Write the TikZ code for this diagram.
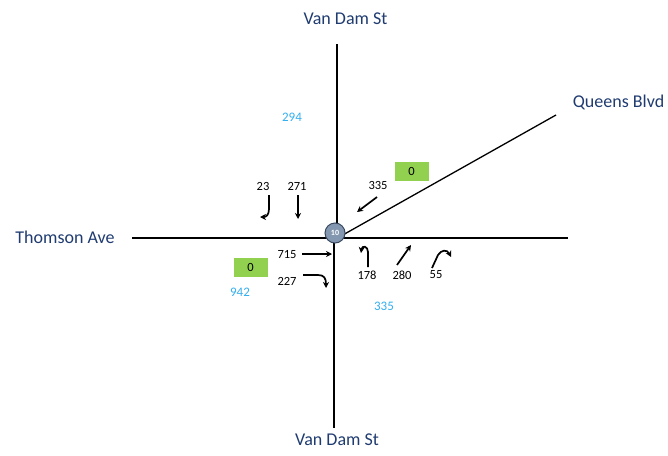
\documentclass[tikz,border=0pt]{standalone}
\usepackage{fontspec}
\setmainfont{Carlito}
\usetikzlibrary{arrows.meta}
\definecolor{roadblue}{HTML}{1F3B70}
\definecolor{volblue}{HTML}{33AEEF}
\definecolor{boxgreen}{HTML}{92D050}
\definecolor{circfill}{HTML}{8497B0}
\definecolor{circdraw}{HTML}{3A4A60}
\tikzset{
  road/.style={line width=1.3pt,black},
  roadlabel/.style={text=roadblue,font=\fontsize{18}{20}\selectfont,inner sep=0pt},
  vol/.style={text=black,font=\fontsize{12.5}{14}\selectfont,inner sep=0pt},
  tot/.style={text=volblue,font=\fontsize{13}{15}\selectfont,inner sep=0pt},
  greenbox/.style={fill=boxgreen,minimum width=34pt,minimum height=19pt,inner sep=0pt,font=\fontsize{12.5}{14}\selectfont},
  mv/.style={line width=1.7pt,-{Stealth[length=6pt,width=6pt]}},
  sig/.style={circle,fill=circfill,draw=circdraw,line width=1pt,minimum size=20pt,inner sep=0pt,text=white,font=\fontsize{8}{9}\selectfont\bfseries}
}
\begin{document}
\begin{tikzpicture}[x=1pt,y=-1pt]
\useasboundingbox (0,0) rectangle (668,455);
% road end points
\coordinate (nT) at (337,44);
\coordinate (nC) at (337,238);
\coordinate (sC) at (334,238);
\coordinate (sB) at (334,428);
\coordinate (wL) at (132,238);
\coordinate (eR) at (568,238);
\coordinate (qS) at (341,236);
\coordinate (qE) at (556,115);
\draw[road] (nT) -- (nC);
\draw[road] (sC) -- (sB);
\draw[road] (wL) -- (eR);
\draw[road] (qS) -- (qE);
\node[sig] (sg) at (335,233) {10};
% road labels
\node[roadlabel] (lN) at (345.5,19) {Van Dam St};
\node[roadlabel] (lS) at (337,440) {Van Dam St};
\node[roadlabel] (lW) at (65,237) {Thomson Ave};
\node[roadlabel] (lE) at (618.5,102) {Queens Blvd};
% totals
\node[tot] (t294) at (292,117) {294};
\node[tot] (t942) at (240,292) {942};
\node[tot] (t335) at (384,306) {335};
% green boxes
\node[greenbox] (g1) at (411.5,171) {0};
\node[greenbox] (g2) at (250.5,267.5) {0};
% volumes
\node[vol] (v23) at (263,186) {23};
\node[vol] (v271) at (297,186) {271};
\node[vol] (v335) at (378,185) {335};
\node[vol] (v715) at (287,255) {715};
\node[vol] (v227) at (287,281) {227};
\node[vol] (v178) at (367,275) {178};
\node[vol] (v280) at (402,275) {280};
\node[vol] (v55) at (436,275) {55};
% movement arrows
\coordinate (a23s) at (269,195);
\coordinate (a23e) at (260,217);
\draw[mv] (a23s) -- (269,209) .. controls (269,215) and (266,217) .. (a23e);
\coordinate (a271s) at (298,195);
\coordinate (a271e) at (298,219);
\draw[mv] (a271s) -- (a271e);
\coordinate (a335s) at (377,197);
\coordinate (a335e) at (357,212);
\draw[mv] (a335s) -- (a335e);
\coordinate (a715s) at (302,254);
\coordinate (a715e) at (332,254);
\draw[mv] (a715s) -- (a715e);
\coordinate (a227s) at (303,275);
\coordinate (a227e) at (326,288);
\draw[mv] (a227s) -- (318,275) .. controls (324,275) and (326,278) .. (a227e);
\coordinate (a178s) at (368,267);
\coordinate (a178e) at (361,253);
\draw[mv] (a178s) -- (368,252) .. controls (368,246) and (362,245) .. (a178e);
\coordinate (a280s) at (397,265);
\coordinate (a280e) at (411,245);
\draw[mv] (a280s) -- (a280e);
\coordinate (a55s) at (432,268);
\coordinate (a55e) at (451,257);
\draw[mv] (a55s) -- (438,255) .. controls (441,250) and (447,249) .. (a55e);
\end{tikzpicture}
\end{document}
